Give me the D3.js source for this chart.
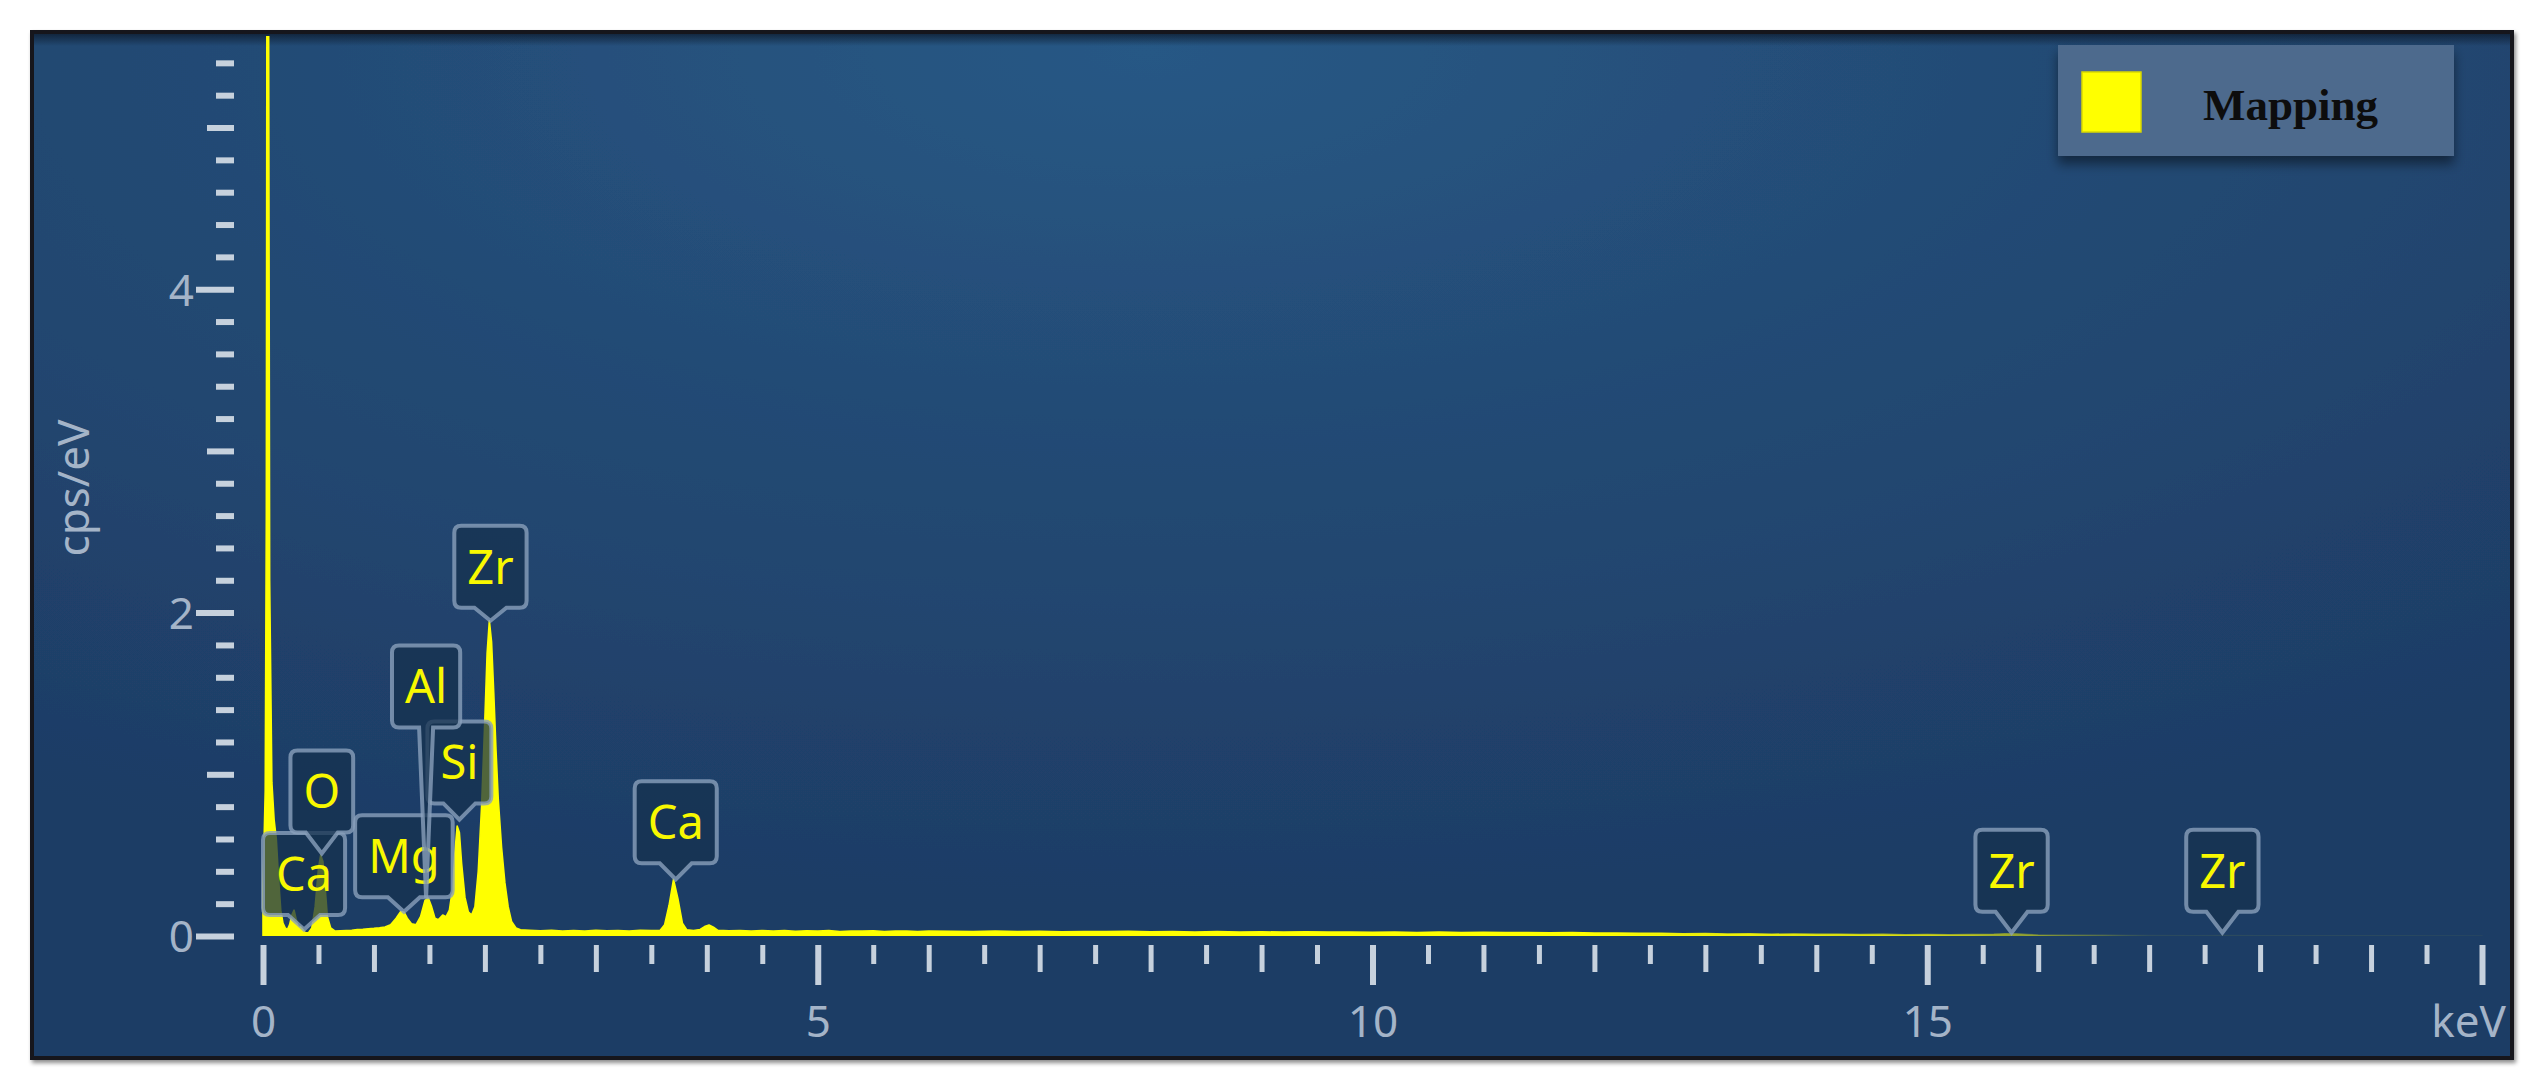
<!DOCTYPE html>
<html><head><meta charset="utf-8">
<script src="https://cdn.jsdelivr.net/npm/d3@7"></script>
<style>html,body{margin:0;padding:0;background:#fff;overflow:hidden}</style>
</head><body>
<svg id="chart" width="2544" height="1091"></svg>
<script>
// ---------------- DATA ----------------
const energyKeV = [
0.00,0.02,0.03,0.04,0.05,0.06,0.08,0.10,0.12,0.14,0.16,0.18,0.20,0.22,0.24,0.26,0.28,0.30,0.32,0.34,0.36,0.38,0.41,0.44,0.47,0.50,0.52,0.54,0.56,0.58,0.61,0.65,
0.70,0.75,0.80,0.85,0.90,0.95,1.00,1.05,1.10,1.15,1.20,1.24,1.27,1.30,1.34,1.38,1.42,1.46,1.49,1.52,1.55,1.58,1.62,1.65,1.68,1.71,1.73,1.75,1.77,1.79,1.82,1.85,1.88,1.91,1.94,1.97,2.00,2.02,2.04,2.06,2.08,2.10,2.12,2.15,2.18,2.21,2.24,2.28,2.32,2.40,
2.50,2.60,2.70,2.80,2.90,3.00,3.10,3.20,3.30,3.40,3.50,3.58,3.62,3.66,3.70,3.74,3.78,3.82,3.88,3.94,3.98,4.02,4.06,4.10,
4.20,4.30,4.40,4.50,4.60,4.70,4.80,4.90,5.00,5.10,5.20,5.30,5.40,5.50,5.60,5.70,5.80,5.90,6.00,
6.20,6.40,6.60,6.80,7.00,7.20,7.40,7.60,7.80,8.00,8.20,8.40,8.60,8.80,9.00,9.20,9.40,9.60,9.80,10.00,
10.20,10.40,10.60,10.80,11.00,11.20,11.40,11.60,11.80,12.00,12.20,12.40,12.60,12.80,13.00,13.20,13.40,13.60,13.80,14.00,
14.20,14.40,14.60,14.80,15.00,15.20,15.40,15.60,15.70,15.80,15.90,16.00,16.20,16.40,16.60,16.80,17.00,17.40,17.70,18.00,18.50,19.00,20.00
];
const countsCps = [
0.30,0.90,2.60,9.00,6.00,2.20,0.95,0.72,0.60,0.36,0.16,0.08,0.05,0.04,0.07,0.13,0.16,0.10,0.05,0.06,0.04,0.02,0.02,0.05,0.18,0.42,0.50,0.46,0.30,0.12,0.05,0.030,
0.032,0.034,0.036,0.040,0.041,0.045,0.047,0.050,0.055,0.070,0.110,0.150,0.150,0.110,0.075,0.070,0.120,0.220,0.235,0.180,0.110,0.100,0.130,0.120,0.160,0.300,0.520,0.680,0.640,0.450,0.240,0.150,0.130,0.180,0.400,0.800,1.350,1.750,1.950,1.820,1.500,1.150,0.850,0.550,0.330,0.180,0.090,0.050,0.038,0.035,
0.032,0.036,0.031,0.034,0.030,0.035,0.032,0.034,0.031,0.036,0.033,0.036,0.070,0.190,0.350,0.230,0.080,0.038,0.034,0.040,0.058,0.068,0.055,0.035,
0.032,0.034,0.030,0.033,0.031,0.034,0.029,0.032,0.030,0.033,0.028,0.031,0.030,0.032,0.028,0.030,0.031,0.027,0.030,
0.029,0.027,0.030,0.027,0.029,0.026,0.028,0.027,0.029,0.026,0.027,0.025,0.028,0.025,0.026,0.024,0.026,0.024,0.025,0.023,
0.025,0.022,0.024,0.022,0.023,0.021,0.022,0.020,0.021,0.019,0.018,0.016,0.017,0.014,0.015,0.012,0.013,0.011,0.012,0.010,
0.011,0.009,0.010,0.008,0.009,0.008,0.009,0.011,0.014,0.013,0.009,0.006,0.005,0.004,0.004,0.003,0.003,0.002,0.003,0.002,0.001,0.001,0.000
];
const seriesName = "Mapping";
const xTickLabels = ["0","5","10","15"];
const xTickLabelValues = [0,5,10,15];
const xUnitLabel = "keV";
const yTickLabels = ["0","2","4"];
const yTickLabelValues = [0,2,4];
const yAxisTitle = "cps/eV";
const peakElements = ["Ca","O","Mg","Si","Al","Zr","Ca","Zr","Zr"];
const peakKeV      = [0.37,0.53,1.27,1.77,1.47,2.05,3.72,15.76,17.66];
const peakTipCps   = [0.04,0.51,0.15,0.72,0.235,1.95,0.35,0.02,0.02];
const peakBoxBaseCps=[0.13,0.64,0.24,0.82,1.29,2.03,0.45,0.15,0.15];

// ---------------- LAYOUT ----------------
const svg = d3.select("#chart");
const defs = svg.append("defs");
const frame = {x:32, y:32, w:2480, h:1026};
const x = d3.scaleLinear().domain([0,20]).range([263,2482]);
const y = d3.scaleLinear().domain([0,5.566]).range([936,36]);

const rg = defs.append("radialGradient").attr("id","bg")
  .attr("cx",0.45).attr("cy",0.02).attr("r",0.85).attr("fx",0.45).attr("fy",0.02);
rg.append("stop").attr("offset","0%").attr("stop-color","#285885");
rg.append("stop").attr("offset","45%").attr("stop-color","#234a74");
rg.append("stop").attr("offset","100%").attr("stop-color","#1e3c65");

const topShade = defs.append("linearGradient").attr("id","topShade").attr("x1",0).attr("x2",0).attr("y1",0).attr("y2",1);
topShade.append("stop").attr("offset","0%").attr("stop-color","#0c1a2c").attr("stop-opacity",0.75);
topShade.append("stop").attr("offset","100%").attr("stop-color","#0c1a2c").attr("stop-opacity",0);

// spectrum fades to a dim dotted trace at high energy
const fade = defs.append("linearGradient").attr("id","specFade").attr("gradientUnits","userSpaceOnUse")
  .attr("x1",x(12)).attr("x2",x(17)).attr("y1",0).attr("y2",0);
fade.append("stop").attr("offset","0%").attr("stop-color","#ffff00").attr("stop-opacity",1);
fade.append("stop").attr("offset","60%").attr("stop-color","#ffff00").attr("stop-opacity",0.55);
fade.append("stop").attr("offset","100%").attr("stop-color","#ffff00").attr("stop-opacity",0.05);

const fs = defs.append("filter").attr("id","frameShadow").attr("x","-2%").attr("y","-2%").attr("width","104%").attr("height","106%");
fs.append("feDropShadow").attr("dx",2).attr("dy",3).attr("stdDeviation",2).attr("flood-color","#000").attr("flood-opacity",0.45);

const ls = defs.append("filter").attr("id","legShadow").attr("x","-10%").attr("y","-20%").attr("width","120%").attr("height","160%");
ls.append("feDropShadow").attr("dx",0).attr("dy",8).attr("stdDeviation",6).attr("flood-color","#000").attr("flood-opacity",0.45);

defs.append("clipPath").attr("id","plotClip").append("rect")
  .attr("x",frame.x+4).attr("y",frame.y+4).attr("width",frame.w-8).attr("height",y(0)-frame.y-4);

// frame
svg.append("rect").attr("x",frame.x).attr("y",frame.y).attr("width",frame.w).attr("height",frame.h)
  .attr("fill","url(#bg)").attr("stroke","#15191f").attr("stroke-width",4).attr("filter","url(#frameShadow)");
svg.append("rect").attr("x",frame.x+2).attr("y",frame.y+2).attr("width",frame.w-4).attr("height",12)
  .attr("fill","url(#topShade)");

// ---------------- AXES ----------------
const tickColor = "#c6d1dd";
const labelColor = "#a4b4c8";
const fontSans = "'Noto Sans', 'Open Sans', sans-serif";

const xAll = d3.range(0, 41).map(i => i*0.5);
const xMinor = xAll.filter(v => v % 1 !== 0);
const xMedium = xAll.filter(v => v % 1 === 0 && v % 5 !== 0);
const xMajor = xAll.filter(v => v % 5 === 0);

function styleAxis(g, w){
  g.select(".domain").remove();
  g.selectAll(".tick line").attr("stroke",tickColor).attr("stroke-width",w);
}
const xAxisY = 945;
[[xMinor,19,5],[xMedium,27,5],[xMajor,40,6]].forEach(([vals,size,w])=>{
  const g = svg.append("g").attr("transform",`translate(0,${xAxisY})`)
    .call(d3.axisBottom(x).tickValues(vals).tickSize(size).tickFormat(""));
  styleAxis(g,w);
});
const xl = svg.append("g").attr("transform",`translate(0,${xAxisY})`)
  .call(d3.axisBottom(x).tickValues(xTickLabelValues).tickSize(0).tickFormat((d,i)=>xTickLabels[i]));
xl.select(".domain").remove();
xl.selectAll("text").attr("y",1022-xAxisY).attr("dy","0.35em")
  .attr("fill",labelColor).style("font-family",fontSans).style("font-size","44px");
svg.append("text").attr("x",2506).attr("y",1022).attr("dy","0.35em").attr("text-anchor","end")
  .attr("fill",labelColor).style("font-family",fontSans).style("font-size","44px").text(xUnitLabel);

const yAll = d3.range(0, 28).map(i => Math.round(i*2)/10);
const yMinor = yAll.filter(v => Math.abs(v-Math.round(v))>1e-6);
const yMedium = yAll.filter(v => Math.abs(v-Math.round(v))<1e-6 && Math.round(v)%2===1);
const yMajor = yAll.filter(v => Math.abs(v-Math.round(v))<1e-6 && Math.round(v)%2===0);
const yAxisX = 234;
[[yMinor,18],[yMedium,27],[yMajor,38]].forEach(([vals,size])=>{
  const g = svg.append("g").attr("transform",`translate(${yAxisX},0)`)
    .call(d3.axisLeft(y).tickValues(vals).tickSize(size).tickFormat(""));
  styleAxis(g,6);
});
const yl = svg.append("g").attr("transform",`translate(${yAxisX},0)`)
  .call(d3.axisLeft(y).tickValues(yTickLabelValues).tickSize(0).tickFormat((d,i)=>yTickLabels[i]));
yl.select(".domain").remove();
yl.selectAll("text").attr("x",-40).attr("dy","0.36em")
  .attr("fill",labelColor).style("font-family",fontSans).style("font-size","44px");
svg.append("text").attr("transform","translate(74,488) rotate(-90)").attr("text-anchor","middle").attr("dy","0.35em")
  .attr("fill",labelColor).style("font-family",fontSans).style("font-size","44px").text(yAxisTitle);

// ---------------- SPECTRUM ----------------
const spectrum = energyKeV.map((e,i)=>({e, c: countsCps[i]}));
const area = d3.area().x(d=>x(d.e)).y0(y(0)).y1(d=>y(d.c));
svg.append("g").attr("clip-path","url(#plotClip)")
  .append("path").datum(spectrum).attr("d",area).attr("fill","url(#specFade)")
  .attr("stroke","url(#specFade)").attr("stroke-width",1.6).attr("stroke-linejoin","round");

// ---------------- PEAK LABELS ----------------
const boxH = 82, padX = 13, rad = 7;
function boxPath(cx, top, bottom, tipY, w, r, hw){
  const l = cx - w/2, rr = cx + w/2;
  return `M${l+r},${top} H${rr-r} Q${rr},${top} ${rr},${top+r} V${bottom-r} Q${rr},${bottom} ${rr-r},${bottom} `+
    `H${cx+hw} L${cx},${tipY} L${cx-hw},${bottom} H${l+r} Q${l},${bottom} ${l},${bottom-r} V${top+r} Q${l},${top} ${l+r},${top} Z`;
}
peakElements.forEach((el,i)=>{
  const cx = x(peakKeV[i]);
  const bottom = y(peakBoxBaseCps[i]);
  const top = bottom - boxH;
  const tipY = y(peakTipCps[i]);
  const g = svg.append("g");
  const path = g.append("path");
  const t = g.append("text").attr("x",cx).attr("y",top+boxH/2).attr("dy","0.36em").attr("text-anchor","middle")
    .attr("fill","#f8f800").style("font-family",fontSans).style("font-size","47px").text(el);
  const tw = t.node().getComputedTextLength();
  const w = tw + 2*padX;
  const hw = (tipY - bottom) > 40 ? 7 : 16;
  path.attr("d", boxPath(cx, top, bottom, tipY, w, rad, hw))
    .attr("fill","#16324f").attr("fill-opacity",0.75)
    .attr("stroke","#8aa0bb").attr("stroke-opacity",0.8).attr("stroke-width",4);
});

// ---------------- LEGEND ----------------
const leg = svg.append("g");
leg.append("rect").attr("x",2058).attr("y",45).attr("width",396).attr("height",111)
  .attr("fill","#4e6b8d").attr("filter","url(#legShadow)");
leg.append("rect").attr("x",2082).attr("y",72).attr("width",59).attr("height",60)
  .attr("fill","#ffff00").attr("stroke","#d9d900").attr("stroke-width",1.5);
leg.append("text").attr("x",2203).attr("y",104).attr("dy","0.35em")
  .attr("fill","#0d0d0d").style("font-family","'Liberation Serif','Times New Roman',serif")
  .style("font-weight","bold").style("font-size","45px").text(seriesName);
</script>
</body></html>
